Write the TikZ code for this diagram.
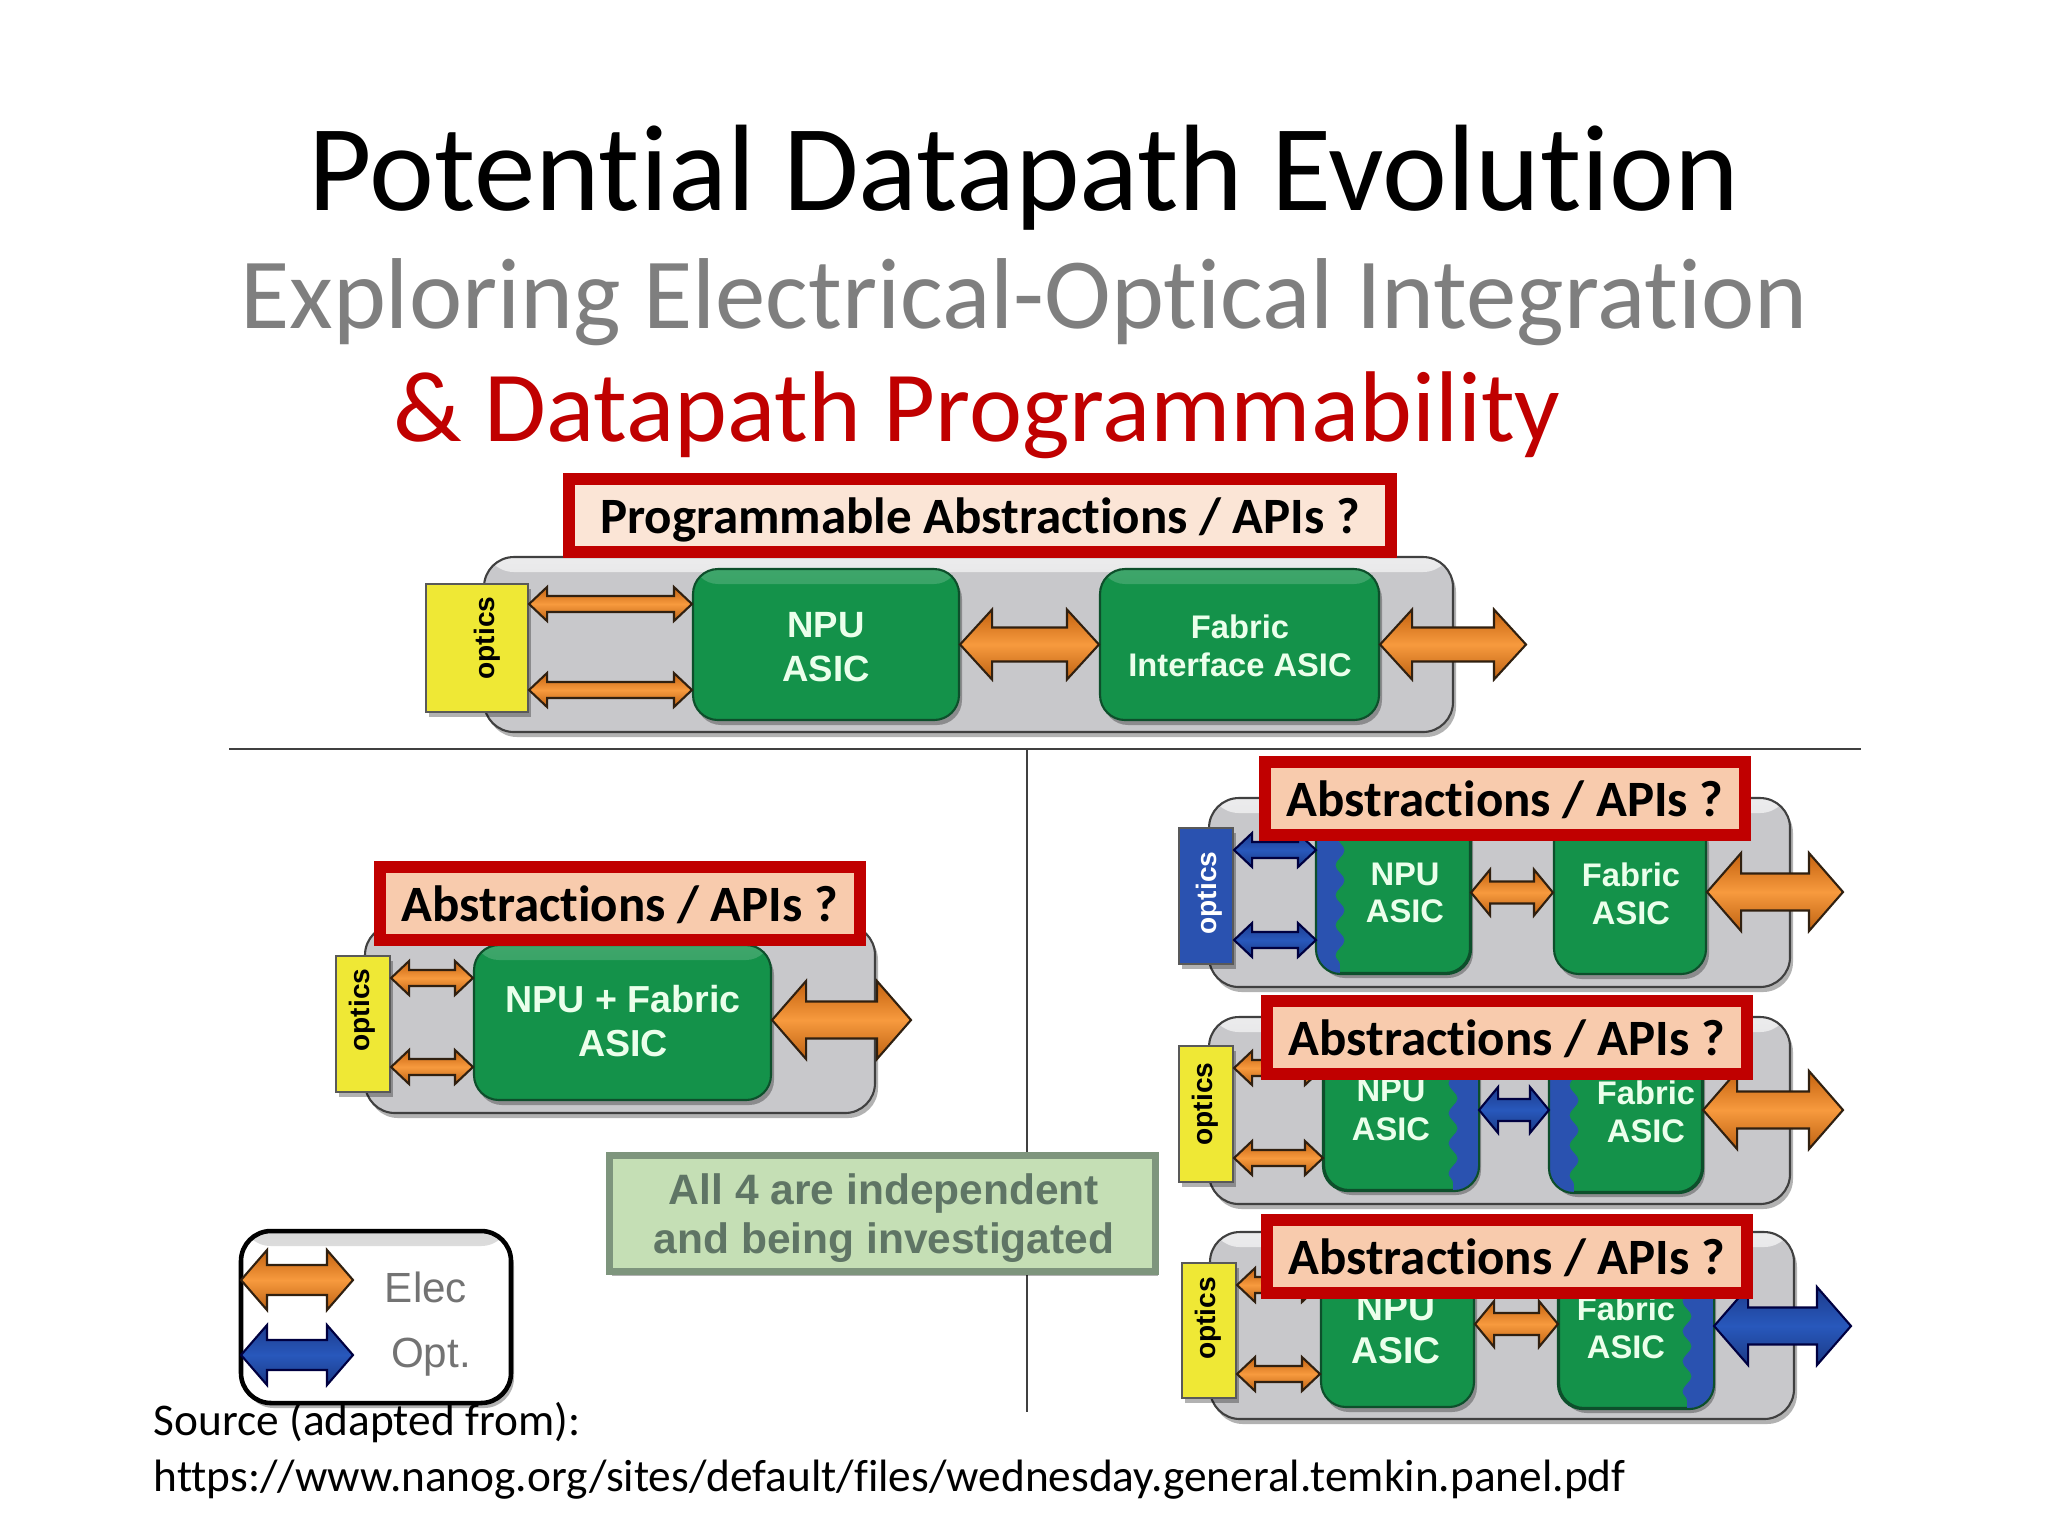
\documentclass[tikz,border=0pt]{standalone}
\usepackage{fontspec}
\setmainfont[Ligatures=NoCommon]{Carlito}
\newfontfamily\arialfont{Liberation Sans}
\usetikzlibrary{calc,shadows,decorations.pathmorphing}
\definecolor{redline}{HTML}{C00000}
\definecolor{titlegray}{HTML}{7F7F7F}
\definecolor{peachfill}{HTML}{F8CBAD}
\definecolor{palefill}{HTML}{FBE5D6}
\definecolor{panelgray}{HTML}{C8C8CB}
\definecolor{asicgreen}{HTML}{14924A}
\definecolor{asicline}{HTML}{0D4F2B}
\definecolor{yellowfill}{HTML}{EFE835}
\definecolor{bluefill}{HTML}{2A52B0}
\definecolor{notefill}{HTML}{C5DFB5}
\definecolor{notetext}{HTML}{5F7565}
\definecolor{electop}{HTML}{C4620F}
\definecolor{elecmid}{HTML}{F79A3E}
\definecolor{elecbot}{HTML}{BE6212}
\definecolor{opttop}{HTML}{1D3C8C}
\definecolor{optmid}{HTML}{2858BC}
\definecolor{optbot}{HTML}{1B3A85}
\tikzset{
  softshadow/.style={drop shadow={shadow xshift=.3mm,shadow yshift=-.5mm,opacity=.3,fill=black}},
  sheen/.style 2 args={path picture={\shade[top color=#1,bottom color=#2]
    (path picture bounding box.north west) rectangle ([yshift=-1.5mm]path picture bounding box.north east);}},
  panel/.style={draw=black!75,line width=.6pt,fill=panelgray,rounded corners=3mm,inner sep=0pt,softshadow},
  asic/.style={draw=asicline,line width=.6pt,fill=asicgreen,rounded corners=2.5mm,inner sep=0pt,softshadow},
  asictext/.style 2 args={text=white!92!green,align=center,inner sep=0pt,font=\arialfont\bfseries\fontsize{#1}{#2}\selectfont},
  optics/.style={draw=black!65,line width=.6pt,fill=yellowfill,inner sep=0pt,softshadow},
  opticstext/.style={inner sep=0pt,font=\arialfont\bfseries\fontsize{8}{9}\selectfont},
  apibox/.style={draw=redline,line width=1.2mm,inner sep=0pt},
  apitext/.style={inner sep=0pt,font=\bfseries\fontsize{14.5}{15}\selectfont},
  elec/.style={draw=black!75!brown,line width=.6pt,top color=electop,bottom color=elecbot,middle color=elecmid},
  opt/.style={draw=black!75!blue,line width=.6pt,top color=opttop,bottom color=optbot,middle color=optmid},
  blockarrow/.style n args={3}{to path={let \p1=(\tikztostart),\p2=(\tikztotarget) in
    (\x1,\y1) -- ({\x1+#1},{\y1+#3}) -- ({\x1+#1},{\y1+#2}) -- ({\x2-#1},{\y1+#2}) -- ({\x2-#1},{\y1+#3}) -- (\x2,\y1)
    -- ({\x2-#1},{\y1-#3}) -- ({\x2-#1},{\y1-#2}) -- ({\x1+#1},{\y1-#2}) -- ({\x1+#1},{\y1-#3}) -- cycle}},
  tinyarrow/.style={blockarrow={1.8mm}{.8mm}{1.7mm}},
  midarrow/.style={blockarrow={1.9mm}{1.1mm}{2.3mm}},
  bigarrow/.style={blockarrow={3.2mm}{1.7mm}{3.5mm}},
  hugearrow/.style={blockarrow={3.4mm}{1.85mm}{3.9mm}},
  keyarrow/.style={blockarrow={2.6mm}{1.5mm}{3mm}},
}
\begin{document}
\begin{tikzpicture}[x=.1mm,y=-.1mm]
  \useasboundingbox (0,0) rectangle (2048,1536);
  % headings
  \node (title) at (1024,178) {\fontsize{35}{35}\selectfont Potential Datapath Evolution};
  \node[text=titlegray] (subtitle) at (1024,302) {\fontsize{28.67}{30}\selectfont Exploring Electrical-Optical Integration};
  \node[text=redline] (subtitleb) at (977,415) {\fontsize{28.6}{30}\selectfont \& Datapath Programmability};
  % dividers
  \coordinate (divl) at (229,749);
  \coordinate (divr) at (1861,749);
  \coordinate (divt) at (1027,749);
  \coordinate (divb) at (1027,1412);
  \draw[black!75,line width=.6pt] (divl) -- (divr);
  \draw[black!75,line width=.6pt] (divt) -- (divb);
  % gray boards
  \foreach \nm/\x/\y/\w/\h in {boardA/968.5/644.5/96.9/17.5, boardL/620/1019/51/18.8, boardB/1499.5/892.5/58.1/18.9, boardC/1499.5/1110.5/58.1/18.7, boardD/1502/1325.5/58.4/18.7}{
    \node[panel,sheen={panelgray!35!white}{panelgray},minimum width=\w mm,minimum height=\h mm] (\nm) at (\x,\y) {};
  }
  % optics modules
  \node[optics,minimum width=10.2mm,minimum height=12.8mm] (optA) at (477,648) {};
  \node[optics,minimum width=5.4mm,minimum height=13.6mm] (optL) at (363,1024) {};
  \node[optics,fill=bluefill,minimum width=5.4mm,minimum height=13.6mm] (optB) at (1206,896) {};
  \node[optics,minimum width=5.4mm,minimum height=13.6mm] (optC) at (1206,1114) {};
  \node[optics,minimum width=5.4mm,minimum height=13.5mm] (optD) at (1209,1330.5) {};
  \foreach \nm/\x/\y/\col in {optAt/487/638/black, optLt/362/1010/black, optBt/1209/893/white, optCt/1205/1104/black, optDt/1208/1318.5/black}{
    \node[opticstext,text=\col] (\nm) at (\x,\y) {\rotatebox{90}{optics}};
  }
  % asics
  \foreach \nm/\x/\y/\w/\h in {npuA/826/644.5/26.6/15.1, fabA/1239.5/644.5/27.9/15.1, asicL/622.5/1022.5/29.7/15.5, npuB/1393.5/892.5/15.3/16.1, fabB/1630/894.5/15.2/15.9, npuC/1401/1110/15.4/16, fabC/1626/1112/15.2/16, npuD/1397.5/1329/15.3/15.6, fabD/1636/1328/15.4/16}{
    \node[asic,sheen={asicgreen!82!white}{asicgreen},minimum width=\w mm,minimum height=\h mm] (\nm) at (\x,\y) {};
  }
  % optical edge of some asics
  \foreach \nd/\sd/\w in {npuB/west/2.4mm, npuC/east/-2.6mm, fabC/west/2.5mm, fabD/east/-2.7mm}{
    \begin{scope}
      \clip[rounded corners=2.5mm] (\nd.south west) rectangle (\nd.north east);
      \fill[bluefill,decoration={snake,segment length=3mm,amplitude=.45mm}] (\nd.north \sd) -- ([xshift=\w]\nd.north \sd)
        decorate {-- ([xshift=\w]\nd.south \sd)} -- (\nd.south \sd) -- cycle;
    \end{scope}
    \draw[asicline,line width=.6pt,rounded corners=2.5mm] (\nd.south west) rectangle (\nd.north east);
  }
  % free ends
  \coordinate (outA) at (1526,645);
  \coordinate (outL) at (911,1020);
  \coordinate (outB) at (1843,892);
  \coordinate (outC) at (1843,1110);
  \coordinate (outD) at (1851,1326);
  % links
  \foreach \a/\b/\up/\dn in {optA/npuA/4.4mm/-4.2mm, optL/asicL/4.6mm/-4.3mm, optC/npuC/4.6mm/-4.4mm, optD/npuD/4.55mm/-4.35mm}{
    \draw[elec,tinyarrow] ([yshift=\up]\a.east) to ([yshift=\up]\b.west);
    \draw[elec,tinyarrow] ([yshift=\dn]\a.east) to ([yshift=\dn]\b.west);
  }
  \draw[opt,tinyarrow] ([yshift=4.6mm]optB.east) to ([yshift=4.6mm]npuB.west);
  \draw[opt,tinyarrow] ([yshift=-4.4mm]optB.east) to ([yshift=-4.4mm]npuB.west);
  \draw[elec,bigarrow] (npuA.east) to (fabA.west);
  \draw[elec,bigarrow] (fabA.east) to (outA);
  \draw[elec,hugearrow] ([yshift=.25mm]asicL.east) to (outL);
  \draw[elec,midarrow] (npuB.east) to (fabB.west);
  \draw[elec,hugearrow] ([yshift=.25mm]fabB.east) to (outB);
  \draw[opt,midarrow] (npuC.east) to (fabC.west);
  \draw[elec,hugearrow] ([yshift=.2mm]fabC.east) to (outC);
  \draw[elec,midarrow] ([yshift=.5mm]npuD.east) to (fabD.west);
  \draw[opt,hugearrow] ([yshift=.2mm]fabD.east) to (outD);
  % asic labels
  \node[asictext={10.4}{12.6}] (npuAt) at (826,647) {NPU\\ASIC};
  \node[asictext={9.3}{10.9}] (fabAt) at (1240,646) {Fabric\\Interface ASIC};
  \node[asictext={10.7}{12.6}] (asicLt) at (623,1021) {NPU + Fabric\\ASIC};
  \node[asictext={9.3}{10.7}] (npuBt) at (1405,893) {NPU\\ASIC};
  \node[asictext={9.3}{10.9}] (fabBt) at (1631,894) {Fabric\\ASIC};
  \node[asictext={9.3}{10.9}] (npuCt) at (1391,1110) {NPU\\ASIC};
  \node[asictext={9.3}{10.9}] (fabCt) at (1646,1112) {Fabric\\ASIC};
  \node[asictext={10.6}{12.2}] (npuDt) at (1396,1329) {NPU\\ASIC};
  \node[asictext={9.3}{10.9}] (fabDt) at (1626,1328) {Fabric\\ASIC};
  % question boxes
  \node[apibox,fill=palefill,minimum width=82.2mm,minimum height=7.35mm] (apiA) at (979.5,515.5) {};
  \node[apitext] (apiAt) at (980,520) {Programmable Abstractions / APIs ?};
  \foreach \nm/\x/\y in {apiL/619.75/903.25, apiB/1505/798, apiC/1506.75/1037, apiD/1506.5/1256}{
    \node[apibox,fill=peachfill,minimum width=48mm,minimum height=7.3mm] (\nm) at (\x,\y) {};
    \node[apitext] (\nm t) at ([yshift=-.15mm]\nm.center) {Abstractions / APIs ?};
  }
  % note
  \node[draw=notetext!70!notefill,line width=.7mm,fill=notefill,inner sep=0pt,softshadow,minimum width=54.6mm,minimum height=11.6mm] (note) at (882,1213) {};
  \node[text=notetext,align=center,inner sep=0pt,font=\arialfont\bfseries\fontsize{12.1}{13.7}\selectfont] (notet) at (884,1218) {All 4 are independent\\and being investigated};
  % legend
  \node[draw=black,line width=1.3pt,fill=white,rounded corners=3mm,inner sep=0pt,softshadow,sheen={black!15}{white},minimum width=27mm,minimum height=17.2mm] (legend) at (376,1317) {};
  \coordinate (keyal) at (241,1280);
  \coordinate (keyar) at (353,1280);
  \coordinate (keybl) at (241,1355);
  \coordinate (keybr) at (353,1355);
  \draw[elec,keyarrow] (keyal) to (keyar);
  \draw[opt,keyarrow] (keybl) to (keybr);
  \node[text=black!55,font=\arialfont\fontsize{12}{12}\selectfont] (keya) at (426,1287) {Elec};
  \node[text=black!55,font=\arialfont\fontsize{12}{12}\selectfont] (keyb) at (431,1357) {Opt.};
  % source
  \node[anchor=west,inner sep=0pt] (source) at (153,1423) {\fontsize{12.9}{13}\selectfont Source (adapted from):};
  \node[anchor=west,inner sep=0pt] (url) at (153,1480) {\fontsize{12.9}{13}\selectfont https://www.nanog.org/sites/default/files/wednesday.general.temkin.panel.pdf};
\end{tikzpicture}
\end{document}
